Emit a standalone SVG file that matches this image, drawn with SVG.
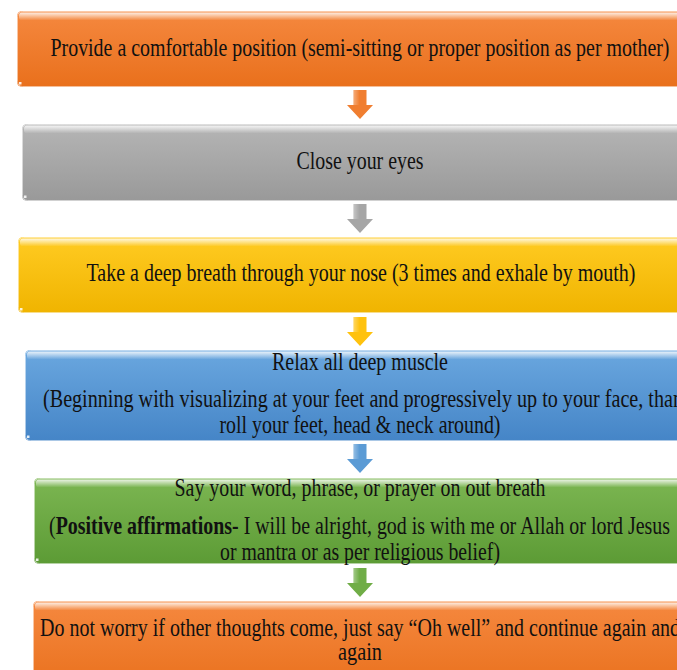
<svg xmlns="http://www.w3.org/2000/svg" width="677" height="670" viewBox="0 0 677 670">
<style>
.t{font-family:"Liberation Serif","Times New Roman",serif;font-size:24.5px;fill:#111;}
.b{font-weight:bold;}
.hl{fill:url(#gloss);}
.edge{fill:none;stroke:#ffffff;stroke-opacity:0.55;stroke-width:1;}
.dot{fill:#ffffff;fill-opacity:0.85;}
</style>
<defs>
<linearGradient id="gOrange" x1="0" y1="0" x2="0" y2="1"><stop offset="0" stop-color="#F5883F"/><stop offset="1" stop-color="#E9701C"/></linearGradient>
<linearGradient id="gGray" x1="0" y1="0" x2="0" y2="1"><stop offset="0" stop-color="#B5B5B5"/><stop offset="1" stop-color="#999999"/></linearGradient>
<linearGradient id="gYellow" x1="0" y1="0" x2="0" y2="1"><stop offset="0" stop-color="#FFCB22"/><stop offset="1" stop-color="#F0B400"/></linearGradient>
<linearGradient id="gBlue" x1="0" y1="0" x2="0" y2="1"><stop offset="0" stop-color="#6AA7DF"/><stop offset="1" stop-color="#4585C7"/></linearGradient>
<linearGradient id="gGreen" x1="0" y1="0" x2="0" y2="1"><stop offset="0" stop-color="#7CB652"/><stop offset="1" stop-color="#5C9B35"/></linearGradient>
<linearGradient id="gloss" x1="0" y1="0" x2="0" y2="1"><stop offset="0" stop-color="#ffffff" stop-opacity="0.85"/><stop offset="1" stop-color="#ffffff" stop-opacity="0"/></linearGradient>
<linearGradient id="aShine" x1="0" y1="0" x2="1" y2="0"><stop offset="0" stop-color="#ffffff" stop-opacity="0.35"/><stop offset="1" stop-color="#ffffff" stop-opacity="0"/></linearGradient>
<path id="arrow" d="M-6.5,0 H6.5 V15 H13 L0,29 L-13,15 H-6.5 Z"/>
</defs>

<g id="connectors">
<g id="a1"><use href="#arrow" x="360" y="90" fill="#F07E30"/><rect x="353.5" y="90" width="6" height="15" fill="url(#aShine)"/></g>
<g id="a2"><use href="#arrow" x="360" y="204" fill="#A6A6A6"/><rect x="353.5" y="204" width="6" height="15" fill="url(#aShine)"/></g>
<g id="a3"><use href="#arrow" x="360" y="317" fill="#FFC20E"/><rect x="353.5" y="317" width="6" height="15" fill="url(#aShine)"/></g>
<g id="a4"><use href="#arrow" x="360" y="444" fill="#5B9BD5"/><rect x="353.5" y="444" width="6" height="15" fill="url(#aShine)"/></g>
<g id="a5"><use href="#arrow" x="360" y="568" fill="#70AD47"/><rect x="353.5" y="568" width="6" height="15" fill="url(#aShine)"/></g>
</g>

<g id="n1">
<rect x="17" y="11" width="690" height="76" rx="5" fill="url(#gOrange)"/>
<rect x="19" y="12.5" width="686" height="8" rx="3" class="hl"/>
<rect x="17.5" y="11.5" width="689" height="75" rx="5" class="edge"/>
<rect x="19" y="82" width="2.5" height="2.5" class="dot"/>
<text class="t" x="360" y="56" text-anchor="middle" textLength="619" lengthAdjust="spacingAndGlyphs">Provide a comfortable position (semi-sitting  or proper position as per mother)</text>
</g>

<g id="n2">
<rect x="22" y="124" width="690" height="77" rx="5" fill="url(#gGray)"/>
<rect x="24" y="125.5" width="686" height="8" rx="3" class="hl"/>
<rect x="22.5" y="124.5" width="689" height="76" rx="5" class="edge"/>
<rect x="24" y="195.5" width="2.5" height="2.5" class="dot"/>
<text class="t" x="360" y="169" text-anchor="middle" textLength="127" lengthAdjust="spacingAndGlyphs">Close your eyes</text>
</g>

<g id="n3">
<rect x="18" y="237" width="690" height="76" rx="5" fill="url(#gYellow)"/>
<rect x="20" y="238.5" width="686" height="8" rx="3" class="hl"/>
<rect x="18.5" y="237.5" width="689" height="75" rx="5" class="edge"/>
<rect x="20" y="308" width="2.5" height="2.5" class="dot"/>
<text class="t" x="361" y="281" text-anchor="middle" textLength="549" lengthAdjust="spacingAndGlyphs">Take a deep breath through your nose (3 times and exhale by mouth)</text>
</g>

<g id="n4">
<rect x="25" y="350" width="690" height="91" rx="5" fill="url(#gBlue)"/>
<rect x="27" y="351.5" width="686" height="8" rx="3" class="hl"/>
<rect x="25.5" y="350.5" width="689" height="90" rx="5" class="edge"/>
<rect x="27" y="435.5" width="2.5" height="2.5" class="dot"/>
<text class="t" x="360" y="370" text-anchor="middle" textLength="176" lengthAdjust="spacingAndGlyphs">Relax all deep muscle</text>
<text class="t" x="43" y="407" textLength="640" lengthAdjust="spacingAndGlyphs">(Beginning  with visualizing  at your feet and progressively up to your face, than</text>
<text class="t" x="360" y="433" text-anchor="middle" textLength="281" lengthAdjust="spacingAndGlyphs">roll your feet, head &amp; neck around)</text>
</g>

<g id="n5">
<rect x="34" y="478" width="690" height="86" rx="5" fill="url(#gGreen)"/>
<rect x="36" y="479.5" width="686" height="8" rx="3" class="hl"/>
<rect x="34.5" y="478.5" width="689" height="85" rx="5" class="edge"/>
<rect x="36" y="558.5" width="2.5" height="2.5" class="dot"/>
<text class="t" x="360" y="496" text-anchor="middle" textLength="371" lengthAdjust="spacingAndGlyphs">Say your word, phrase, or prayer on out breath</text>
<text class="t" x="49" y="534" textLength="621" lengthAdjust="spacingAndGlyphs">(<tspan class="b">Positive affirmations-</tspan> I will  be alright,  god is with me or Allah or lord Jesus</text>
<text class="t" x="360" y="560" text-anchor="middle" textLength="280" lengthAdjust="spacingAndGlyphs">or mantra or as per religious  belief)</text>
</g>

<g id="n6">
<rect x="33" y="601" width="690" height="90" rx="5" fill="url(#gOrange)"/>
<rect x="35" y="602.5" width="686" height="8" rx="3" class="hl"/>
<rect x="33.5" y="601.5" width="689" height="89" rx="5" class="edge"/>
<text class="t" x="40" y="636" textLength="640" lengthAdjust="spacingAndGlyphs">Do not worry if other thoughts come, just say “Oh well” and continue again and</text>
<text class="t" x="360" y="660" text-anchor="middle" textLength="44" lengthAdjust="spacingAndGlyphs">again</text>
</g>
</svg>
